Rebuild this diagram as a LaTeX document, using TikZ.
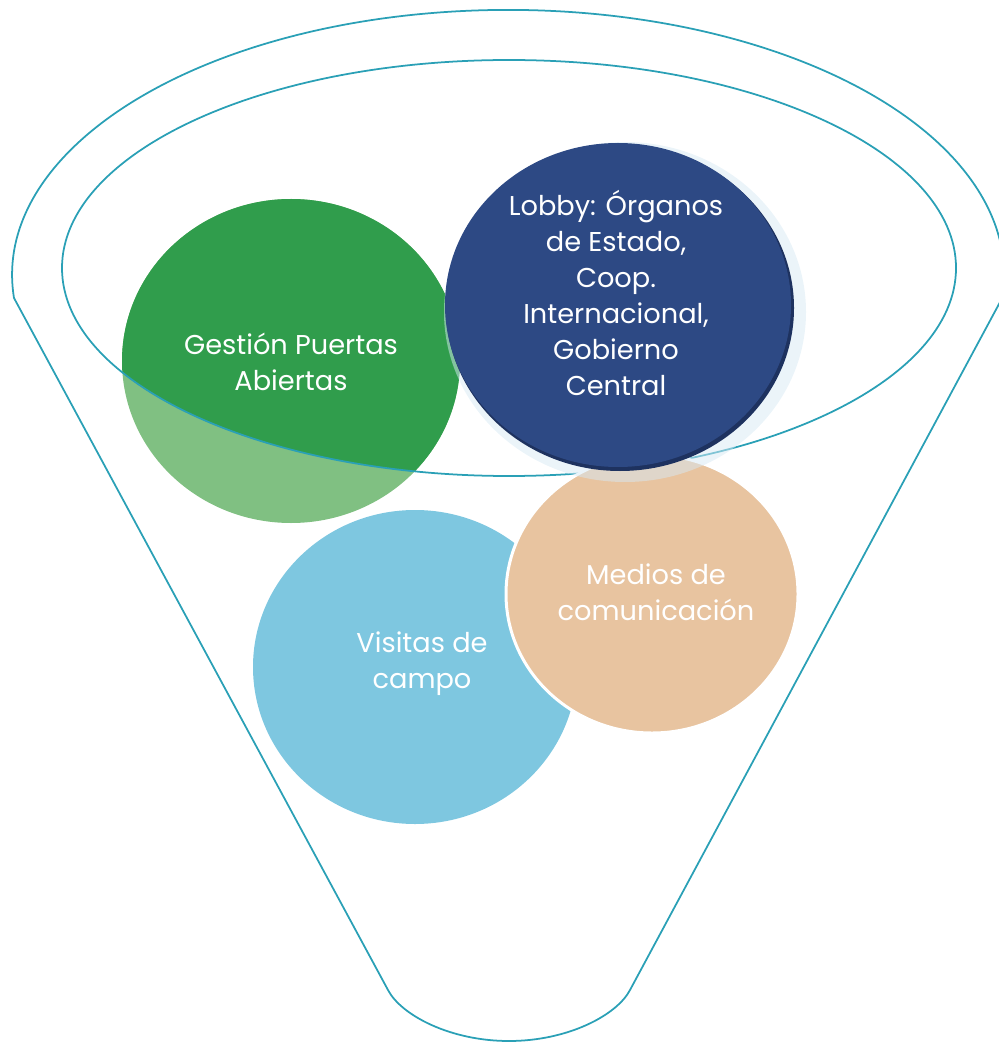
\documentclass[tikz,border=0pt]{standalone}
\usepackage{fontspec}
\setmainfont{Poppins}
\usepackage{tikz}
\usetikzlibrary{positioning}
\definecolor{funnel}{RGB}{42,160,182}
\definecolor{gpadark}{RGB}{48,157,76}
\definecolor{gpalight}{RGB}{128,192,130}
\definecolor{lobbyblue}{RGB}{45,73,132}
\definecolor{lobbyedge}{RGB}{30,50,95}
\definecolor{lobbyglow}{RGB}{215,233,244}
\definecolor{mediostan}{RGB}{232,196,160}
\definecolor{visitasblue}{RGB}{126,199,224}

\begin{document}
\begin{tikzpicture}[
x=0.02cm, y=-0.02cm,
FunnelLine/.style={draw=funnel,line width=1pt},
BubbleText/.style={text=white,align=center,inner sep=0pt,
  font=\fontsize{15.5}{20.4}\selectfont}
]
\useasboundingbox (0,0) rectangle (998,1043);

\coordinate (G) at (291,361);
\coordinate (L) at (618,305);
\coordinate (M) at (652,594);
\coordinate (V) at (415,667);
\coordinate (I) at (509,268);

% funnel outline
\draw[FunnelLine] (14,298) arc[start angle=175,end angle=365,x radius=496,y radius=265]
  -- (630,990) .. controls (617,1015) and (568,1041) .. (509,1041)
  .. controls (450,1041) and (401,1015) .. (388,990) -- cycle;

% green bubble, darker inside the rim
\fill[gpalight] (G) ellipse [x radius=169,y radius=162];
\begin{scope}
\clip (I) ellipse [x radius=447,y radius=208];
\fill[gpadark] (G) ellipse [x radius=169,y radius=162];
\end{scope}

\draw[FunnelLine] (I) ellipse [x radius=447,y radius=208];

\fill[visitasblue] (V) ellipse [x radius=162,y radius=157];
\filldraw[fill=mediostan,draw=white,line width=1.7pt] (M) ellipse [x radius=146,y radius=139];

% lobby bubble with soft halo
\fill[lobbyglow,opacity=0.5] (625,312) ellipse [x radius=181,y radius=170];
\fill[lobbyedge] (620,308) ellipse [x radius=174,y radius=163];
\fill[lobbyblue] (L) ellipse [x radius=173,y radius=162];

\node[BubbleText] (gpa) at (291,362) {Gestión Puertas\\Abiertas};
\node[BubbleText] (lobby) at (616,293) {Lobby: Órganos\\de Estado,\\Coop.\\Internacional,\\Gobierno\\Central};
\node[BubbleText] (medios) at (656,592) {Medios de\\comunicación};
\node[BubbleText] (visitas) at (422,664) {Visitas de\\campo};

\end{tikzpicture}
\end{document}
